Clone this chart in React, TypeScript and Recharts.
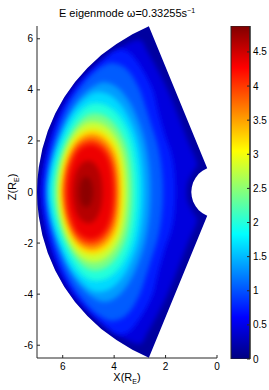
import { Bar, ComposedChart, Scatter, ScatterChart, XAxis, YAxis } from "recharts";

// colour range of the colorbar
const cMax = 4.88;
const xTicks = [0, 2, 4, 6];
const zTicks = [-6, -4, -2, 0, 2, 4, 6];
const barTicks = [0, 0.5, 1, 1.5, 2, 2.5, 3, 3.5, 4, 4.5];

// value just inside the boundary of the domain
const baseLevel = 0.15;

// upper half of the domain outline (x, z), mirrored for z < 0
const domainHalf = [
  [1, 0], [0.98, 0.19], [0.93, 0.37], [0.83, 0.56], [0.71, 0.71], [0.56, 0.83], [0.38, 0.93],
  [2.65, 6.49], [3.29, 6.18], [3.91, 5.8], [4.5, 5.36], [5.04, 4.86], [5.52, 4.31], [5.94, 3.71],
  [6.29, 3.07], [6.58, 2.39], [6.79, 1.69], [6.93, 0.97], [6.98, 0.49], [7, 0],
];

// contour levels of E, and the upper half of each contour
const levels = [0.3, 0.6, 0.9, 1.2, 1.5, 1.8, 2.2, 2.6, 3.0, 3.4, 3.8, 4.2, 4.5, 4.75];

const c030 = [[1.18, 0], [1.12, 0.42], [0.9, 0.85], [0.78, 1.15], [1.13, 2.0], [1.92, 4.0], [2.7, 5.5], [3.0, 5.95], [3.6, 5.75], [4.3, 5.3], [5.0, 4.72], [5.7, 3.95], [6.25, 2.95], [6.62, 1.85], [6.82, 0.85], [6.9, 0]];
const c060 = [[1.62, 0], [1.66, 0.8], [1.78, 1.5], [2.05, 2.3], [2.3, 3.2], [2.5, 4.0], [2.9, 4.8], [3.4, 5.45], [3.9, 5.55], [4.5, 5.1], [5.05, 4.55], [5.6, 3.85], [6.1, 2.95], [6.48, 1.85], [6.7, 0.9], [6.78, 0]];
const c090 = [[2.1, 0], [2.15, 0.9], [2.3, 1.8], [2.55, 2.6], [2.8, 3.4], [3.05, 4.1], [3.5, 4.8], [4.1, 5.05], [4.7, 4.75], [5.2, 4.25], [5.7, 3.55], [6.12, 2.65], [6.43, 1.65], [6.6, 0.8], [6.66, 0]];
const c120 = [[2.58, 0], [2.63, 1.0], [2.8, 2.0], [3.08, 2.85], [3.42, 3.55], [3.88, 4.1], [4.42, 4.3], [5.0, 4.0], [5.5, 3.45], [5.93, 2.62], [6.3, 1.65], [6.52, 0.8], [6.6, 0]];
const c150 = [[2.85, 0], [2.9, 1.0], [3.06, 1.95], [3.35, 2.75], [3.72, 3.4], [4.2, 3.82], [4.75, 3.9], [5.25, 3.55], [5.72, 2.95], [6.1, 2.1], [6.38, 1.2], [6.5, 0.5], [6.53, 0]];
const c180 = [[3.06, 0], [3.12, 1.0], [3.28, 1.9], [3.56, 2.6], [3.95, 3.15], [4.45, 3.45], [4.98, 3.42], [5.45, 3.02], [5.85, 2.35], [6.18, 1.55], [6.38, 0.75], [6.46, 0]];
const c220 = [[3.3, 0], [3.36, 1.0], [3.52, 1.8], [3.82, 2.45], [4.22, 2.9], [4.7, 3.08], [5.15, 2.95], [5.55, 2.5], [5.9, 1.85], [6.16, 1.05], [6.28, 0.45], [6.3, 0]];
const c260 = [[3.5, 0], [3.56, 0.95], [3.72, 1.7], [4.02, 2.28], [4.42, 2.65], [4.88, 2.75], [5.32, 2.55], [5.7, 2.05], [6.0, 1.35], [6.15, 0.65], [6.19, 0]];
const c300 = [[3.67, 0], [3.72, 0.9], [3.88, 1.6], [4.17, 2.1], [4.56, 2.4], [4.98, 2.44], [5.4, 2.2], [5.74, 1.68], [5.97, 0.98], [6.06, 0.4], [6.09, 0]];
const c340 = [[3.8, 0], [3.85, 0.85], [4.0, 1.5], [4.28, 1.96], [4.65, 2.22], [5.04, 2.23], [5.42, 1.98], [5.72, 1.5], [5.92, 0.85], [6.02, 0]];
const c380 = [[3.92, 0], [3.97, 0.78], [4.12, 1.38], [4.38, 1.8], [4.72, 2.03], [5.08, 2.03], [5.42, 1.8], [5.68, 1.34], [5.86, 0.74], [5.93, 0]];
const c420 = [[4.04, 0], [4.09, 0.72], [4.23, 1.27], [4.47, 1.64], [4.78, 1.83], [5.1, 1.81], [5.4, 1.6], [5.62, 1.18], [5.77, 0.64], [5.82, 0]];
const c450 = [[4.45, 0], [4.5, 0.55], [4.63, 0.93], [4.84, 1.18], [5.08, 1.22], [5.3, 1.08], [5.46, 0.82], [5.56, 0.45], [5.6, 0]];
const c475 = [[4.82, 0], [4.86, 0.32], [4.97, 0.55], [5.1, 0.6], [5.23, 0.52], [5.32, 0.3], [5.35, 0]];

const contourHalves = [c030, c060, c090, c120, c150, c180, c220, c260, c300, c340, c380, c420, c450, c475];

const axisColor = "#262626";
const font = "'Liberation Sans', Arial, sans-serif";
const tickStyle = { fontSize: 10, fill: "#000" };

// MATLAB jet colormap
function jet(v: number) {
  const t = Math.max(0, Math.min(1, v / cMax));
  const ch = (o: number) => Math.round(255 * Math.max(0, Math.min(1, 1.5 - Math.abs(4 * t - o))));
  return `rgb(${ch(3)},${ch(2)},${ch(1)})`;
}

// closes an upper-half outline with its mirror image
function ring(half: number[][]) {
  const up = half.map(([x, z]) => ({ x, z }));
  const down = half.slice(1, -1).reverse().map(([x, z]) => ({ x, z: -z }));
  return [...up, ...down];
}

type Pt = { x: number; y: number };

function linearPath(pts: Pt[]) {
  return pts.map((p, i) => `${i ? "L" : "M"}${p.x},${p.y}`).join("") + "Z";
}

// closed catmull-rom through the points
function smoothPath(pts: Pt[]) {
  const n = pts.length;
  let d = `M${pts[0].x},${pts[0].y}`;
  for (let i = 0; i < n; i++) {
    const p0 = pts[(i - 1 + n) % n];
    const p1 = pts[i];
    const p2 = pts[(i + 1) % n];
    const p3 = pts[(i + 2) % n];
    d += `C${p1.x + (p2.x - p0.x) / 6},${p1.y + (p2.y - p0.y) / 6} ${p2.x - (p3.x - p1.x) / 6},${p2.y - (p3.y - p1.y) / 6} ${p2.x},${p2.y}`;
  }
  return d + "Z";
}

const noDot = () => <g />;

const domainData = ring(domainHalf);

function drawDomain(props: any) {
  const d = linearPath(props.points);
  return (
    <g>
      <defs>
        <clipPath id="dom">
          <path d={d} />
        </clipPath>
        <filter id="soft" filterUnits="userSpaceOnUse" x="0" y="0" width="300" height="400">
          <feGaussianBlur stdDeviation="2.8" />
        </filter>
      </defs>
      <path d={d} fill={jet(baseLevel)} stroke="none" />
    </g>
  );
}

function contourLine(color: string) {
  return (props: any) => <path d={smoothPath(props.points)} fill={color} stroke="none" filter="url(#soft)" clipPath="url(#dom)" />;
}

const barData = [{ k: "E", v: cMax }];
const jetStops = [0, 0.125, 0.375, 0.625, 0.875, 1];

export default function App(): JSX.Element {
  return (
    <div style={{ position: "absolute", left: 0, top: 0, width: 269, height: 390, fontFamily: font, background: "#fff" }}>
      <div style={{ position: "absolute", left: 27, width: 200, top: 6, textAlign: "center", fontSize: 11, lineHeight: "14px", whiteSpace: "nowrap" }}>
        E eigenmode ω=0.33255s<span style={{ fontSize: 7, position: "relative", top: -4 }}>−1</span>
      </div>

      <ScatterChart width={225} height={390} margin={{ top: 26, right: 8, bottom: 0, left: 0 }} style={{ position: "absolute", left: 0, top: 0 }}>
        <XAxis type="number" dataKey="x" domain={[0, 7]} reversed ticks={xTicks} height={32} tickSize={-3} tickMargin={8} tick={tickStyle} stroke={axisColor} allowDataOverflow />
        <XAxis xAxisId="top" orientation="top" type="number" domain={[0, 7]} reversed ticks={xTicks} height={0} tickSize={-3} tick={false} stroke={axisColor} allowDataOverflow />
        <YAxis type="number" dataKey="z" domain={[-6.5, 6.5]} ticks={zTicks} width={37} tickSize={-3} tickMargin={7} tick={tickStyle} stroke={axisColor} allowDataOverflow />
        <YAxis yAxisId="right" orientation="right" type="number" domain={[-6.5, 6.5]} ticks={zTicks} width={0} tickSize={-3} tick={false} stroke={axisColor} allowDataOverflow />
        <Scatter data={domainData} shape={noDot} line={drawDomain} lineType="joint" isAnimationActive={false} legendType="none" />
        {contourHalves.map((half, i) => {
          const lo = levels[i];
          const hi = i + 1 < levels.length ? levels[i + 1] : cMax;
          return (
            <Scatter
              key={lo}
              data={ring(half)}
              shape={noDot}
              line={contourLine(jet((lo + hi) / 2))}
              lineType="joint"
              isAnimationActive={false}
              legendType="none"
            />
          );
        })}
      </ScatterChart>

      <ComposedChart width={44} height={390} data={barData} margin={{ top: 26, right: 0, bottom: 31, left: 6 }} barCategoryGap={0} style={{ position: "absolute", left: 225, top: 0 }}>
        <defs>
          <linearGradient id="jetGrad" x1="0" y1="1" x2="0" y2="0">
            {jetStops.map((s) => (
              <stop key={s} offset={s} stopColor={jet(s * cMax)} />
            ))}
          </linearGradient>
        </defs>
        <XAxis dataKey="k" hide />
        <YAxis orientation="right" type="number" domain={[0, cMax]} ticks={barTicks} width={19} tickSize={-3} tickMargin={6} tick={tickStyle} stroke={axisColor} allowDataOverflow />
        <Bar dataKey="v" fill="url(#jetGrad)" stroke={axisColor} strokeWidth={1} isAnimationActive={false} />
      </ComposedChart>

      <div style={{ position: "absolute", left: 127, top: 377, transform: "translate(-50%,-50%)", fontSize: 11, whiteSpace: "nowrap" }}>
        X(R<span style={{ fontSize: 7, position: "relative", top: 3 }}>E</span>)
      </div>
      <div style={{ position: "absolute", left: 12, top: 187, transform: "translate(-50%,-50%) rotate(-90deg)", fontSize: 11, whiteSpace: "nowrap" }}>
        Z(R<span style={{ fontSize: 7, position: "relative", top: 3 }}>E</span>)
      </div>
    </div>
  );
}
